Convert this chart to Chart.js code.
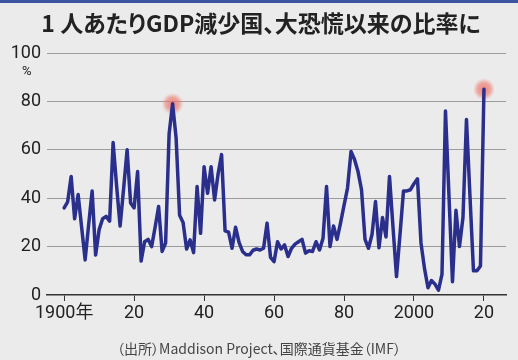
<!DOCTYPE html>
<html>
<head>
<meta charset="utf-8">
<script src="https://cdn.jsdelivr.net/npm/chart.js@4/dist/chart.umd.min.js"></script>
<style>
  html, body { margin: 0; padding: 0; background: #ebebeb; }
  #wrap { position: relative; width: 518px; height: 360px; overflow: hidden; background: #ebebeb; }
  #topbar { position: absolute; left: 0; top: 0; width: 518px; height: 3px; background: #3c55a0; }
  #title { position: absolute; left: 2px; top: 7px; width: 518px; text-align: center;
    font-family: "Noto Sans CJK JP", sans-serif; font-weight: 700; font-size: 23px; color: #222; line-height: 30px;
    font-feature-settings: "palt"; }
  #unit { position: absolute; left: 22px; top: 63px; font-family: Roboto, "Noto Sans CJK JP", sans-serif;
    font-size: 13px; color: #222; }
  #source { position: absolute; left: 0; top: 338px; width: 518px; text-align: center;
    font-family: "Noto Sans CJK JP", sans-serif; font-size: 14px; color: #444; line-height: 20px;
    font-feature-settings: "palt"; }
  canvas { position: absolute; left: 0; top: 0; }
</style>
</head>
<body>
<div id="wrap">
  <div id="topbar"></div>
  <canvas id="c" width="518" height="360"></canvas>
  <div id="title">1 人あたりGDP減少国、大恐慌以来の比率に</div>
  <div id="unit">%</div>
  <div id="source">（出所）Maddison Project、国際通貨基金（IMF）</div>
</div>
<script>
// ---- data ----
const startYear = 1900;
const shareValues = [
  36, 38.5, 49, 31.5, 41.5, 28, 14.5, 29, 43, 16.5,        // 1900-1909
  27, 31.5, 32.5, 30.5, 63, 45, 28.5, 44, 60, 38,          // 1910-1919
  36, 51, 14, 22, 23, 20, 28, 36.6, 18, 21.5,              // 1920-1929
  66.5, 79, 65, 33, 30, 19, 22.8, 17.5, 44.8, 25.5,        // 1930-1939
  53, 42, 53, 39.3, 50, 58, 26.5, 26, 19.3, 28,            // 1940-1949
  21.7, 18, 16.6, 16.6, 18.5, 19, 18.6, 19.3, 29.7, 15.5,  // 1950-1959
  13.8, 22, 19, 20.7, 15.9, 19.3, 21, 22, 23, 17.3,        // 1960-1969
  18.3, 18, 22, 18.6, 23.5, 44.8, 20, 28.5, 23, 29.7,      // 1970-1979
  37, 44.2, 59.3, 56, 51, 43.5, 23, 19.3, 25, 38.6,        // 1980-1989
  19.5, 32, 24, 49, 28, 7.6, 25, 43, 43, 43.5,             // 1990-1999
  46, 48, 21.5, 11, 3, 6, 4.5, 2, 8.5, 76,                 // 2000-2009
  41, 5.5, 35, 20, 32, 72.5, 41, 10, 10, 12,               // 2010-2019
  85                                                       // 2020
];
const years = shareValues.map((_, i) => startYear + i);
const highlightYears = [1931, 2020];
const xTickYears = [1900, 1920, 1940, 1960, 1980, 2000, 2020];
const yTickValues = [0, 20, 40, 60, 80, 100];

// ---- glow point image ----
const glow = document.createElement('canvas');
glow.width = 22; glow.height = 22;
(function () {
  const g = glow.getContext('2d');
  const grad = g.createRadialGradient(11, 11, 0, 11, 11, 11);
  grad.addColorStop(0, 'rgba(236,110,100,0.85)');
  grad.addColorStop(0.6, 'rgba(238,120,110,0.6)');
  grad.addColorStop(1, 'rgba(240,140,130,0)');
  g.fillStyle = grad;
  g.beginPath(); g.arc(11, 11, 11, 0, Math.PI * 2); g.fill();
})();

const lineData = years.map((y, i) => ({ x: y, y: shareValues[i] }));
const glowData = highlightYears.map(y => ({ x: y, y: shareValues[years.indexOf(y)] }));

const tickFont = { family: 'Roboto, "Noto Sans CJK JP", sans-serif', size: 18 };

new Chart(document.getElementById('c'), {
  type: 'line',
  data: {
    datasets: [
      {
        data: lineData,
        borderColor: '#2b2f8c',
        borderWidth: 3.5,
        pointRadius: 0,
        tension: 0,
        order: 1,
        borderJoinStyle: 'round',
        borderCapStyle: 'round'
      },
      {
        data: glowData,
        showLine: false,
        pointStyle: glow,
        pointRadius: 11,
        order: 2
      }
    ]
  },
  options: {
    responsive: false,
    animation: false,
    events: [],
    layout: { padding: { top: 53, right: 8, bottom: 33, left: 0 } },
    plugins: { legend: { display: false }, tooltip: { enabled: false }, title: { display: false } },
    scales: {
      x: {
        type: 'linear',
        min: 1895.1,
        max: 2026.3,
        afterBuildTicks: (s) => { s.ticks = xTickYears.map(v => ({ value: v })); },
        afterFit: (s) => { s.height = 32; },
        ticks: {
          autoSkip: false,
          maxRotation: 0,
          padding: 2,
          color: '#222',
          font: tickFont,
          callback: (v) => (v === 1900 ? '1900年' : (v === 2000 ? '2000' : String(v % 100).padStart(2, '0')))
        },
        grid: { display: true, drawOnChartArea: false, drawTicks: true, tickLength: 6, color: '#333', lineWidth: 1 },
        border: { display: true, color: '#333', width: 1.5 }
      },
      y: {
        min: 0,
        max: 100,
        afterBuildTicks: (s) => { s.ticks = yTickValues.map(v => ({ value: v })); },
        afterFit: (s) => { s.width = 47; },
        ticks: { padding: 6, color: '#222', font: tickFont },
        grid: { drawTicks: false, color: (ctx) => (ctx.tick && ctx.tick.value === 0 ? 'rgba(0,0,0,0)' : '#9c9c9c'), lineWidth: 1 },
        border: { display: false }
      }
    }
  }
});
</script>
</body>
</html>
